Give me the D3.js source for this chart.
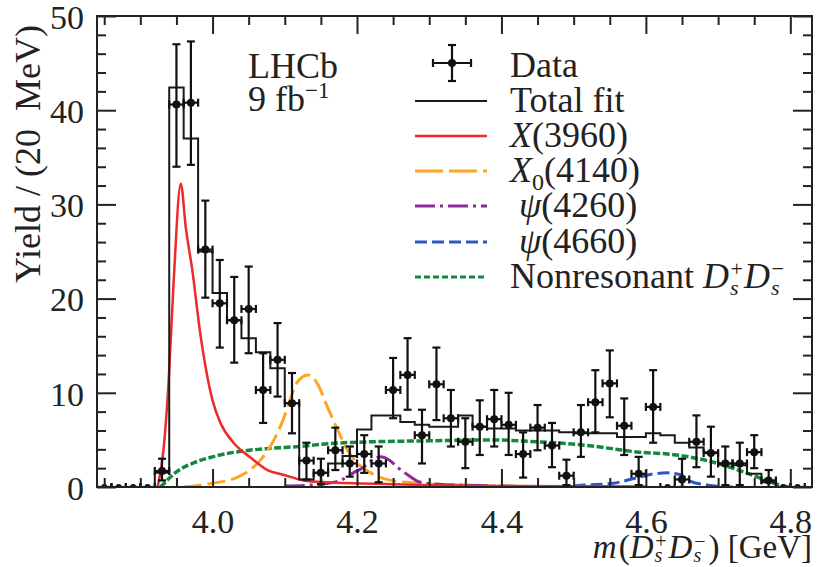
<!DOCTYPE html>
<html><head><meta charset="utf-8">
<script src="https://cdn.jsdelivr.net/npm/d3@7"></script>
<style>body{margin:0;background:#fff}</style>
</head><body>
<svg id="c" width="818" height="567"></svg>
<script>
// ---------------- data ----------------
const dataMass  = [3.93,3.95,3.97,3.99,4.01,4.03,4.05,4.07,4.09,4.11,4.13,4.15,4.17,4.19,4.21,4.23,4.25,4.27,4.29,4.31,4.33,4.35,4.37,4.39,4.41,4.43,4.45,4.47,4.49,4.51,4.53,4.55,4.57,4.59,4.61,4.65,4.67,4.69,4.71,4.73,4.75,4.77];
const dataYield = [1.7,40.6,40.8,25.2,19.5,17.7,18.9,10.3,13.5,8.9,2.8,1.5,3.9,2.5,3.5,2.5,10.3,11.9,5.5,10.9,7.3,4.8,6.4,7.2,6.6,3.5,6.3,4.4,1.2,5.8,9.0,11.0,6.5,1.4,8.5,0.8,4.8,3.6,2.5,2.5,3.7,0.7];
const dataErrUp = [1.3,6.4,6.5,5.2,4.6,4.6,4.5,3.9,3.9,3.2,1.9,1.5,2.4,1.8,2.0,1.8,3.4,3.9,2.7,3.9,3.0,2.5,2.8,3.1,3.4,2.3,2.4,2.4,1.7,2.9,3.4,3.5,2.9,1.8,3.9,2.2,2.8,2.8,1.8,2.2,1.8,1.1];
const dataErrDn = [1.0,6.6,6.6,5.1,4.7,4.5,4.7,3.5,3.9,3.2,2.0,1.2,2.1,1.4,2.0,2.0,3.0,3.7,3.0,3.8,3.0,2.8,3.0,2.9,3.2,2.5,2.4,2.3,1.0,2.6,3.2,3.6,3.1,1.2,3.8,0.8,2.7,2.5,2.3,2.3,1.7,0.7];
const zeroMass  = [3.85,3.87,3.89,3.91,4.63,4.79,4.81];
const binHalf = 0.01;

const fitMass  = [3.85,3.87,3.89,3.91,3.93,3.95,3.97,3.99,4.01,4.03,4.05,4.07,4.09,4.11,4.13,4.15,4.17,4.19,4.21,4.23,4.25,4.27,4.29,4.31,4.33,4.35,4.37,4.39,4.41,4.43,4.45,4.47,4.49,4.51,4.53,4.55,4.57,4.59,4.61,4.63,4.65,4.67,4.69,4.71,4.73,4.75,4.77,4.79,4.81];
const fitYield = [0,0,0,0,1.5,42.4,37.0,25.0,20.6,17.7,15.8,14.3,12.6,8.9,0.8,1.5,2.5,3.3,6.1,7.6,7.6,6.9,6.6,6.4,6.4,7.6,6.4,6.2,6.2,6.0,6.0,6.0,5.8,5.7,5.7,5.7,5.3,5.3,5.7,5.5,4.7,4.2,3.7,2.5,2.3,1.4,0.5,0,0];

const x3960Mass  = [3.924,3.932,3.939,3.946,3.956,3.963,3.972,3.983,4.000,4.011,4.029,4.053,4.076,4.098,4.126,4.159,4.25,4.40,4.60];
const x3960Yield = [0,3.9,11,21.6,32.2,27.5,23.0,16.3,9.2,6.8,4.7,3.1,1.8,1.3,0.7,0.5,0.3,0.1,0.05];

const x4140Mass  = [3.96,4.00,4.03,4.05,4.07,4.085,4.098,4.108,4.118,4.132,4.145,4.159,4.173,4.187,4.201,4.219,4.247,4.284,4.35,4.45,4.55];
const x4140Yield = [0,0.4,0.9,1.7,3.2,5.0,7.2,9.4,11.2,11.9,11.0,8.5,6.1,3.9,2.5,1.5,0.7,0.4,0.2,0.05,0];

const psi4260Mass  = [4.10,4.15,4.177,4.195,4.209,4.222,4.233,4.244,4.256,4.270,4.288,4.312,4.40,4.50];
const psi4260Yield = [0.1,0.3,0.7,1.5,2.1,2.9,3.2,2.9,2.1,1.3,0.5,0.3,0.1,0];

const psi4660Mass  = [4.50,4.514,4.555,4.583,4.611,4.630,4.648,4.662,4.686,4.72];
const psi4660Yield = [0.1,0.2,0.4,0.9,1.4,1.5,1.3,0.6,0.2,0];

const nonresMass  = [3.928,3.95,3.975,4.00,4.04,4.08,4.12,4.16,4.22,4.30,4.38,4.45,4.52,4.55,4.59,4.63,4.66,4.69,4.72,4.75,4.77,4.79,4.80];
const nonresYield = [0,1.6,2.6,3.2,3.8,4.1,4.3,4.6,4.8,4.9,5.0,4.8,4.4,4.1,3.7,3.5,3.2,2.7,2.0,1.2,0.6,0.1,0];

const xMajorTicks = [4.0,4.2,4.4,4.6,4.8];
const yMajorTicks = [0,10,20,30,40,50];

// ---------------- setup ----------------
const FONT = '"Liberation Serif","Times New Roman",serif';
const INK = '#222';
const FS = 36;      // legend / labels
const FT = 34;      // tick labels
const svg = d3.select('#c');
svg.append('rect').attr('width',818).attr('height',567).attr('fill','#fff');

const L=97, R=812, T=16, B=487;
const x = d3.scaleLinear().domain([3.84,4.83]).range([L,R]);
const y = d3.scaleLinear().domain([0,50]).range([B,T]);

svg.append('defs').append('clipPath').attr('id','pc')
  .append('rect').attr('x',L).attr('y',T).attr('width',R-L).attr('height',B-T);
const plot = svg.append('g').attr('clip-path','url(#pc)');

function drawCurve(mass, vals, color, dash, w){
  plot.append('path')
    .datum(mass.map((m,i)=>[m,vals[i]]))
    .attr('d', d3.line().x(d=>x(d[0])).y(d=>y(d[1])).curve(d3.curveMonotoneX))
    .attr('fill','none').attr('stroke',color).attr('stroke-width',w)
    .attr('stroke-dasharray',dash);
}

const C_RED='#ee2a2a', C_ORA='#ffa524', C_PUR='#8e2a9a', C_BLU='#2f55c8', C_GRN='#13893f';
const D_ORA='18,6', D_PUR='20,5,3,5', D_BLU='12,5', D_GRN='7,2.5';

drawCurve(nonresMass, nonresYield, C_GRN, D_GRN, 3.5);
drawCurve(x4140Mass, x4140Yield, C_ORA, D_ORA, 3);
drawCurve(psi4260Mass, psi4260Yield, C_PUR, D_PUR, 3);
drawCurve(psi4660Mass, psi4660Yield, C_BLU, D_BLU, 3);
drawCurve(x3960Mass, x3960Yield, C_RED, null, 2.5);

// total fit histogram
const stepPts = fitMass.map((m,i)=>[m-binHalf, fitYield[i]]);
stepPts.push([fitMass[fitMass.length-1]+binHalf, fitYield[fitYield.length-1]]);
plot.append('path').datum(stepPts)
  .attr('d', d3.line().x(d=>x(d[0])).y(d=>y(d[1])).curve(d3.curveStepAfter))
  .attr('fill','none').attr('stroke','#1a1a1a').attr('stroke-width',2);

// data points
const dg = plot.append('g').attr('stroke','#111').attr('stroke-width',2.2).attr('fill','#111');
const cap = 4;
dataMass.forEach((m,i)=>{
  const cx=x(m), cy=y(dataYield[i]);
  const yt=y(dataYield[i]+dataErrUp[i]), yb=y(Math.max(0,dataYield[i]-dataErrDn[i]));
  const xl=x(m-binHalf), xr=x(m+binHalf);
  dg.append('line').attr('x1',cx).attr('x2',cx).attr('y1',yt).attr('y2',yb);
  dg.append('line').attr('x1',cx-cap).attr('x2',cx+cap).attr('y1',yt).attr('y2',yt);
  dg.append('line').attr('x1',cx-cap).attr('x2',cx+cap).attr('y1',yb).attr('y2',yb);
  dg.append('line').attr('x1',xl).attr('x2',xr).attr('y1',cy).attr('y2',cy);
  dg.append('line').attr('x1',xl).attr('x2',xl).attr('y1',cy-cap).attr('y2',cy+cap);
  dg.append('line').attr('x1',xr).attr('x2',xr).attr('y1',cy-cap).attr('y2',cy+cap);
  dg.append('circle').attr('cx',cx).attr('cy',cy).attr('r',4).attr('stroke','none');
});
zeroMass.forEach(m=>{
  const cx=x(m), cy=y(0);
  dg.append('line').attr('x1',x(m-binHalf)).attr('x2',x(m+binHalf)).attr('y1',cy).attr('y2',cy);
  dg.append('line').attr('x1',x(m-binHalf)).attr('x2',x(m-binHalf)).attr('y1',cy-cap).attr('y2',cy);
  dg.append('line').attr('x1',x(m+binHalf)).attr('x2',x(m+binHalf)).attr('y1',cy-cap).attr('y2',cy);
  dg.append('circle').attr('cx',cx).attr('cy',cy).attr('r',3).attr('stroke','none');
});

// ---------------- axes ----------------
const xMinor = d3.range(0,20).map(i=>+(3.85+i*0.05).toFixed(2)).filter(v=>!xMajorTicks.some(t=>Math.abs(t-v)<1e-6));
const yMinor = d3.range(0,51,2).filter(v=>v%10!==0);

function styleAxis(g){
  g.select('.domain').remove();
  g.selectAll('line').attr('stroke',INK).attr('stroke-width',2);
  g.selectAll('text').attr('font-family',FONT).attr('font-size',FT).attr('fill',INK);
}
// bottom
svg.append('g').attr('transform',`translate(0,${B})`)
  .call(d3.axisBottom(x).tickValues(xMajorTicks).tickSizeInner(-18).tickSizeOuter(0).tickFormat(d3.format('.1f')))
  .call(styleAxis)
  .call(g=>g.selectAll('text').attr('y',46).attr('dy',null));
svg.append('g').attr('transform',`translate(0,${B})`)
  .call(d3.axisBottom(x).tickValues(xMinor).tickSizeInner(-9).tickSizeOuter(0).tickFormat(''))
  .call(styleAxis);
// top
svg.append('g').attr('transform',`translate(0,${T})`)
  .call(d3.axisTop(x).tickValues(xMajorTicks).tickSizeInner(-18).tickSizeOuter(0).tickFormat(''))
  .call(styleAxis);
svg.append('g').attr('transform',`translate(0,${T})`)
  .call(d3.axisTop(x).tickValues(xMinor).tickSizeInner(-9).tickSizeOuter(0).tickFormat(''))
  .call(styleAxis);
// left
svg.append('g').attr('transform',`translate(${L},0)`)
  .call(d3.axisLeft(y).tickValues(yMajorTicks).tickSizeInner(-19).tickSizeOuter(0).tickPadding(13).tickFormat(d3.format('d')))
  .call(styleAxis)
  .call(g=>g.selectAll('text').attr('dy','0.36em'));
svg.append('g').attr('transform',`translate(${L},0)`)
  .call(d3.axisLeft(y).tickValues(yMinor).tickSizeInner(-9).tickSizeOuter(0).tickFormat(''))
  .call(styleAxis);
// right
svg.append('g').attr('transform',`translate(${R},0)`)
  .call(d3.axisRight(y).tickValues(yMajorTicks).tickSizeInner(-19).tickSizeOuter(0).tickFormat(''))
  .call(styleAxis);
svg.append('g').attr('transform',`translate(${R},0)`)
  .call(d3.axisRight(y).tickValues(yMinor).tickSizeInner(-9).tickSizeOuter(0).tickFormat(''))
  .call(styleAxis);

svg.append('rect').attr('x',L).attr('y',T).attr('width',R-L).attr('height',B-T)
  .attr('fill','none').attr('stroke',INK).attr('stroke-width',2);

// ---------------- text ----------------
function rich(xp, yp, segs, anchor, fs){
  const t = svg.append('text').attr('x',xp).attr('y',yp)
    .attr('font-family',FONT).attr('font-size',fs||FS).attr('fill',INK).style('white-space','pre');
  let cur = 0;
  segs.forEach(s=>{
    const ts = t.append('tspan').text(s.t);
    if(s.it) ts.attr('font-style','italic');
    if(s.sz) ts.attr('font-size',s.sz);
    const off = s.off||0;
    if(off!==cur){ ts.attr('dy',off-cur); cur=off; }
    if(s.dx) ts.attr('dx',s.dx);
  });
  if(anchor==='end'){
    const bb = t.node().getBBox();
    t.attr('x', xp - (bb.x + bb.width - xp));
  }
  return t;
}

// y title
svg.append('text').attr('transform','translate(40,25) rotate(-90)')
  .attr('text-anchor','end').attr('font-family',FONT).attr('font-size',FS).attr('fill',INK)
  .style('white-space','pre').text('Yield / (20  MeV)');

// x title
rich(812, 558, [
  {t:'m',it:true},{t:'(',dx:2},{t:'D',it:true},
  {t:'s',it:true,sz:20,off:4,dx:1},{t:'+',sz:20,off:-10,dx:-7},
  {t:'D',it:true,off:0,dx:2},
  {t:'s',it:true,sz:20,off:4,dx:1},{t:'\u2212',sz:20,off:-10,dx:-7},
  {t:') [GeV]',off:0,dx:3}
],'end', 33);

// LHCb
rich(248, 78, [{t:'LHCb'}]);
rich(248, 111, [{t:'9 fb'},{t:'\u22121',sz:23,off:-13}]);

// legend
const LX0=415, LX1=487, LTX=510;
const rows=[77,112,147,182,217,253,288];
const lg = svg.append('g');
(function(){
  const cx=452, cy=rows[0]-14;
  const g=lg.append('g').attr('stroke','#111').attr('stroke-width',2.2);
  g.append('line').attr('x1',cx).attr('x2',cx).attr('y1',cy-18).attr('y2',cy+18);
  g.append('line').attr('x1',cx-cap).attr('x2',cx+cap).attr('y1',cy-18).attr('y2',cy-18);
  g.append('line').attr('x1',cx-cap).attr('x2',cx+cap).attr('y1',cy+18).attr('y2',cy+18);
  g.append('line').attr('x1',cx-19).attr('x2',cx+19).attr('y1',cy).attr('y2',cy);
  g.append('line').attr('x1',cx-19).attr('x2',cx-19).attr('y1',cy-cap).attr('y2',cy+cap);
  g.append('line').attr('x1',cx+19).attr('x2',cx+19).attr('y1',cy-cap).attr('y2',cy+cap);
  lg.append('circle').attr('cx',cx).attr('cy',cy).attr('r',4).attr('fill','#111');
})();
const legLines=[
  {c:'#1a1a1a',d:null,w:2},{c:C_RED,d:null,w:2.5},{c:C_ORA,d:'28,6',w:3},
  {c:C_PUR,d:D_PUR,w:3},{c:C_BLU,d:D_BLU,w:3},{c:C_GRN,d:'6,3',w:3}
];
legLines.forEach((l,i)=>{
  const yy=rows[i+1]-11;
  lg.append('line').attr('x1',LX0).attr('x2',LX1).attr('y1',yy).attr('y2',yy)
    .attr('stroke',l.c).attr('stroke-width',l.w).attr('stroke-dasharray',l.d);
});
rich(LTX, rows[0], [{t:'Data'}]);
rich(LTX, rows[1], [{t:'Total fit'}]);
rich(LTX, rows[2], [{t:'X',it:true},{t:'(3960)'}]);
rich(LTX, rows[3], [{t:'X',it:true},{t:'0',sz:24,off:8},{t:'(4140)',off:0}]);
rich(LTX, rows[4], [{t:' '},{t:'\u03c8',it:true},{t:'(4260)'}]);
rich(LTX, rows[5], [{t:' '},{t:'\u03c8',it:true},{t:'(4660)'}]);
rich(LTX, rows[6], [{t:'Nonresonant '},{t:'D',it:true},
  {t:'s',it:true,sz:22,off:7,dx:1},{t:'+',sz:22,off:-12,dx:-8},
  {t:'D',it:true,off:0,dx:1},
  {t:'s',it:true,sz:22,off:7,dx:1},{t:'\u2212',sz:22,off:-12,dx:-8}]);
</script>
</body></html>
